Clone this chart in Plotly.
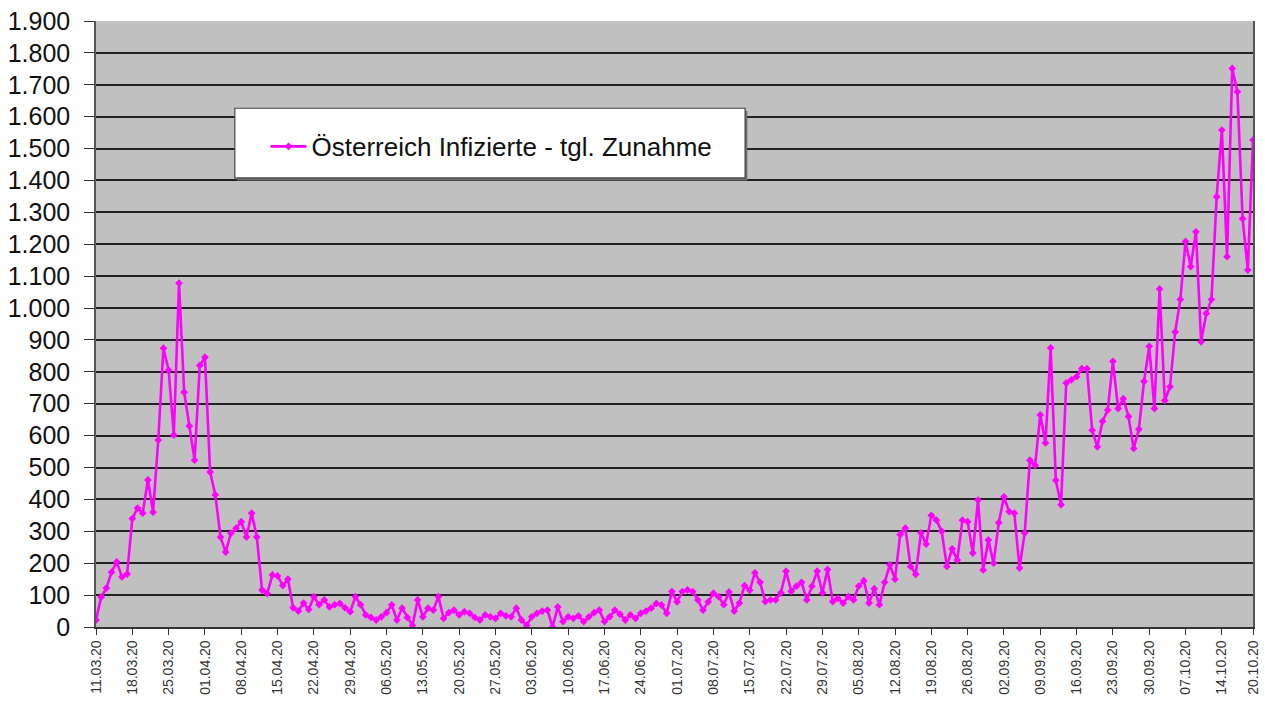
import datetime as dt
import plotly.graph_objects as go

start = dt.date(2020, 3, 11)
n_days = 224
dates = [(start + dt.timedelta(days=i)).strftime("%d.%m.%y") for i in range(n_days)]

values = [
    22, 94, 122, 172, 204, 157, 166, 340, 373, 357,
    461, 360, 586, 874, 805, 602, 1078, 736, 630, 523,
    820, 846, 486, 414, 282, 235, 294, 310, 330, 282,
    357, 282, 116, 105, 163, 160, 130, 150, 60, 50,
    75, 55, 95, 70, 85, 63, 70, 74, 60, 48,
    95, 70, 38, 30, 22, 32, 45, 69, 22, 59,
    30, 5, 85, 32, 59, 53, 95, 27, 45, 53,
    38, 48, 43, 30, 22, 38, 32, 27, 43, 35,
    32, 59, 22, 5, 32, 43, 50, 53, 0, 63,
    17, 32, 27, 35, 17, 32, 45, 53, 17, 32,
    53, 40, 22, 38, 27, 43, 50, 59, 74, 69,
    43, 111, 79, 111, 116, 111, 85, 53, 79, 106,
    95, 70, 110, 50, 75, 130, 115, 170, 140, 80,
    85, 85, 107, 175, 112, 128, 140, 85, 128, 175,
    107, 180, 80, 90, 75, 95, 85, 128, 145, 75,
    120, 70, 140, 195, 150, 290, 310, 190, 165, 295,
    260, 350, 335, 300, 190, 245, 210, 335, 330, 232,
    398, 179, 273, 200, 327, 408, 362, 357, 185, 295,
    523, 507, 665, 577, 875, 460, 383, 765, 775, 785,
    810, 810, 617, 565, 645, 680, 833, 685, 716, 660,
    560, 620, 770, 880, 685, 1060, 710, 753, 925, 1027,
    1209, 1130, 1239, 894, 983, 1027, 1349, 1558, 1161, 1751,
    1678, 1280, 1119, 1527,
]
assert len(values) == n_days

series_name = "Österreich Infizierte - tgl. Zunahme"
tick_labels = dates[::7] + [dates[-1]]

FONT = "Liberation Sans, Arial, sans-serif"
MAGENTA = "#FF00FF"

fig = go.Figure()
fig.add_trace(go.Scatter(
    x=dates, y=values, name=series_name, mode="lines+markers",
    line=dict(color=MAGENTA, width=2.6),
    marker=dict(symbol="diamond", size=6, color=MAGENTA),
    showlegend=True,
))

# legend box (white with shadow)
bx0, bx1, by0, by1 = 0.120, 0.561, 0.741, 0.856
fig.add_shape(type="rect", xref="paper", yref="paper",
              x0=bx0 + 0.002, x1=bx1 + 0.002, y0=by0 - 0.004, y1=by1 - 0.004,
              line=dict(width=0), fillcolor="#6e6e6e", layer="above")
fig.add_shape(type="rect", xref="paper", yref="paper",
              x0=bx0, x1=bx1, y0=by0, y1=by1,
              line=dict(width=1.2, color="#444444"), fillcolor="white", layer="above")

fig.update_layout(
    width=1265, height=702,
    margin=dict(l=96, r=12, t=21, b=75, autoexpand=False),
    paper_bgcolor="white", plot_bgcolor="#C0C0C0",
    separators=",.",
    font=dict(family=FONT, color="#1a1a1a"),
    showlegend=True,
    legend=dict(x=0.1465, y=0.793, xanchor="left", yanchor="middle",
                bgcolor="rgba(0,0,0,0)", borderwidth=0, itemwidth=36,
                font=dict(size=26, family=FONT, color="#111")),
    xaxis=dict(
        type="category", range=[0, n_days - 1], automargin=False,
        tickmode="array", tickvals=tick_labels, ticktext=tick_labels,
        tickangle=-90, tickfont=dict(size=14, color="#333"),
        ticks="outside", ticklen=6, tickcolor="#333", tickwidth=1.2,
        showgrid=False, showline=True, linecolor="#333", linewidth=1.5,
        zeroline=False,
    ),
    yaxis=dict(
        range=[0, 1900], dtick=100, tick0=0, tickformat=",d", automargin=False,
        tickfont=dict(size=25, color="#111"),
        ticks="outside", ticklen=10, tickcolor="#333", tickwidth=1.2,
        ticklabelstandoff=9,
        showgrid=True, gridcolor="#222", gridwidth=1.5,
        showline=True, linecolor="#555", linewidth=1.5, mirror=True,
        zeroline=False,
    ),
)

# remove the browser's default body margin so the figure sits at the page origin
fig.write_html(
    "out.html",
    config={"displayModeBar": False},
    post_script="document.body.style.margin='0';document.body.style.overflow='hidden';",
)
